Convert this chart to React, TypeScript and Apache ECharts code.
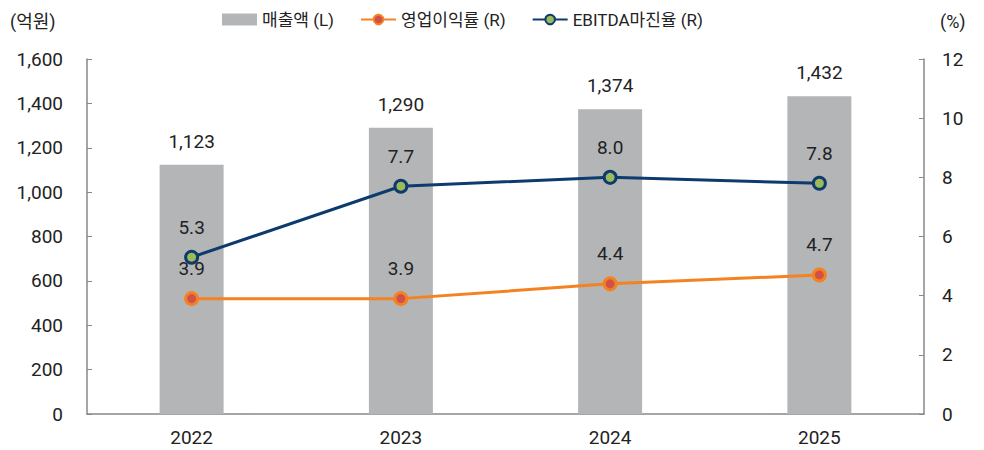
import React, { useEffect, useRef } from "react";
import * as echarts from "echarts";

const categories = ["2022", "2023", "2024", "2025"];
const sales = [1123, 1290, 1374, 1432];
const opMargin = [3.9, 3.9, 4.4, 4.7];
const ebitdaMargin = [5.3, 7.7, 8.0, 7.8];

const FONT = "Roboto, 'Noto Sans CJK KR', sans-serif";
const TXT = "#222";
const FS = 19;

export default function App() {
  const ref = useRef<HTMLDivElement>(null);
  useEffect(() => {
    document.body.style.margin = "0";
    if (!ref.current) return;
    const chart = echarts.init(ref.current, undefined, { renderer: "svg" });
    chart.setOption({
      animation: false,
      textStyle: { fontFamily: FONT },
      grid: { left: 87, right: 60, top: 59, bottom: 36 },
      legend: {
        top: 6,
        left: 217,
        itemGap: 26,
        itemWidth: 35,
        itemHeight: 12,
        textStyle: { fontSize: 17, color: TXT, fontFamily: FONT },
        data: [
          { name: "매출액 (L)", icon: "rect", itemStyle: { color: "#b4b5b7" } },
          { name: "영업이익률 (R)" },
          { name: "EBITDA마진율 (R)" },
        ],
      },
      graphic: [
        { type: "text", left: 10, top: 12, style: { text: "(억원)", fontSize: 18, fill: TXT, fontFamily: FONT } },
        { type: "text", left: 940, top: 12, style: { text: "(%)", fontSize: 18, fill: TXT, fontFamily: FONT } },
      ],
      xAxis: {
        type: "category",
        data: categories,
        axisLine: { lineStyle: { color: "#888", width: 1.5 } },
        axisTick: { show: false },
        axisLabel: { fontSize: FS, color: TXT, margin: 14 },
      },
      yAxis: [
        {
          type: "value",
          min: 0,
          max: 1600,
          interval: 200,
          axisLine: { show: true, lineStyle: { color: "#888", width: 1.5 } },
          axisTick: { show: true, inside: true, length: 5, lineStyle: { color: "#888" } },
          splitLine: { show: false },
          axisLabel: {
            fontSize: FS,
            color: TXT,
            margin: 24,
            formatter: (v: number) => v.toLocaleString("en-US"),
          },
        },
        {
          type: "value",
          min: 0,
          max: 12,
          interval: 2,
          axisLine: { show: true, lineStyle: { color: "#888", width: 1.5 } },
          axisTick: { show: true, inside: true, length: 5, lineStyle: { color: "#888" } },
          splitLine: { show: false },
          axisLabel: { fontSize: FS, color: TXT, margin: 18 },
        },
      ],
      series: [
        {
          name: "매출액 (L)",
          type: "bar",
          data: sales,
          barWidth: 64,
          itemStyle: { color: "#b4b5b7" },
          label: {
            show: true,
            position: "top",
            distance: 14,
            fontSize: FS,
            color: TXT,
            formatter: (p: any) => Number(p.value).toLocaleString("en-US"),
          },
        },
        {
          name: "영업이익률 (R)",
          type: "line",
          yAxisIndex: 1,
          data: opMargin,
          symbol: "circle",
          symbolSize: 12,
          lineStyle: { color: "#f58220", width: 3 },
          itemStyle: { color: "#d0504a", borderColor: "#f58220", borderWidth: 3 },
          label: {
            show: true,
            position: "top",
            distance: 13,
            fontSize: FS,
            color: TXT,
            formatter: (p: any) => Number(p.value).toFixed(1),
          },
        },
        {
          name: "EBITDA마진율 (R)",
          type: "line",
          yAxisIndex: 1,
          data: ebitdaMargin,
          symbol: "circle",
          symbolSize: 12,
          lineStyle: { color: "#0d3b6e", width: 3 },
          itemStyle: { color: "#9bbb59", borderColor: "#0d3b6e", borderWidth: 3 },
          label: {
            show: true,
            position: "top",
            distance: 13,
            fontSize: FS,
            color: TXT,
            formatter: (p: any) => Number(p.value).toFixed(1),
          },
        },
      ],
    });
    return () => chart.dispose();
  }, []);
  return <div ref={ref} style={{ width: 984, height: 450 }} />;
}
